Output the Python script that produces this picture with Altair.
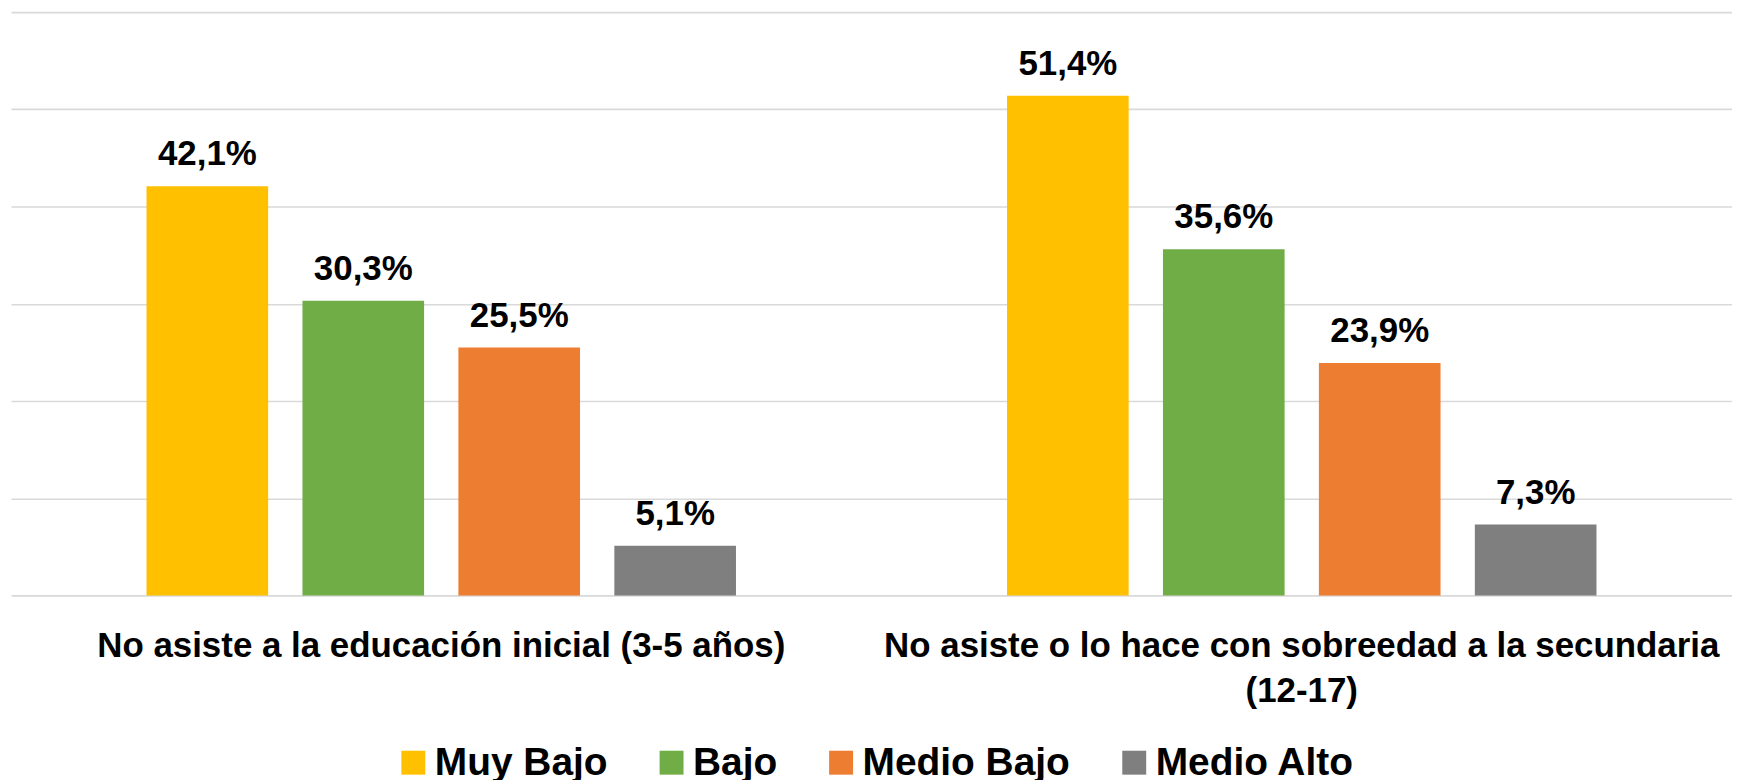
import altair as alt
import pandas as pd

categories = [
    "No asiste a la educación inicial (3-5 años)",
    "No asiste o lo hace con sobreedad a la secundaria (12-17)",
]
cat2_lines = ["No asiste o lo hace con sobreedad a la secundaria", "(12-17)"]
levels = ["Muy Bajo", "Bajo", "Medio Bajo", "Medio Alto"]
colors = ["#FFC000", "#70AD47", "#ED7D31", "#7F7F7F"]
values_inicial = [42.1, 30.3, 25.5, 5.1]
values_secundaria = [51.4, 35.6, 23.9, 7.3]

rows = []
for lvl, v in zip(levels, values_inicial):
    rows.append({"cat": categories[0], "nivel": lvl, "v": v})
for lvl, v in zip(levels, values_secundaria):
    rows.append({"cat": categories[1], "nivel": lvl, "v": v})
df = pd.DataFrame(rows)

FONT = "Liberation Sans"

label_expr = (
    f"datum.value == '{categories[1]}' ? ['{cat2_lines[0]}', '{cat2_lines[1]}'] : datum.value"
)

x = alt.X(
    "cat:N",
    sort=categories,
    title=None,
    scale=alt.Scale(paddingInner=0.315, paddingOuter=0.1575),
    axis=alt.Axis(
        labelAngle=0,
        labelFont=FONT,
        labelFontSize=35,
        labelFontWeight="bold",
        labelColor="#000000",
        labelPadding=33,
        labelLineHeight=45,
        labelLimit=2000,
        labelExpr=label_expr,
        ticks=False,
        tickSize=0,
        domain=False,
        grid=False,
    ),
)
xo = alt.XOffset(
    "nivel:N",
    sort=levels,
    scale=alt.Scale(paddingInner=0.22, paddingOuter=0),
)
y = alt.Y(
    "v:Q",
    title=None,
    scale=alt.Scale(domain=[0, 60], nice=False),
    axis=alt.Axis(
        values=[0, 10, 20, 30, 40, 50, 60],
        labels=False,
        ticks=False,
        domain=False,
        grid=True,
        gridColor="#D9D9D9",
        gridWidth=1.6,
    ),
)
color = alt.Color(
    "nivel:N",
    sort=levels,
    scale=alt.Scale(domain=levels, range=colors),
    legend=alt.Legend(
        title=None,
        orient="none",
        legendX=384,
        legendY=733,
        direction="horizontal",
        symbolType="square",
        symbolSize=576,
        symbolStrokeWidth=0,
        labelFont=FONT,
        labelFontSize=39,
        labelFontWeight="bold",
        labelColor="#000000",
        labelOffset=2,
        labelLimit=1000,
        columnPadding=44,
        padding=0,
    ),
)

bars = alt.Chart(df).mark_bar().encode(x=x, xOffset=xo, y=y, color=color)

text = (
    alt.Chart(df)
    .transform_calculate(lab="replace(format(datum.v, '.1f'), '.', ',') + '%'")
    .mark_text(
        font=FONT,
        fontSize=35,
        fontWeight="bold",
        color="#000000",
        baseline="alphabetic",
        dy=-21,
    )
    .encode(
        x=alt.X("cat:N", sort=categories),
        xOffset=alt.XOffset("nivel:N", sort=levels),
        y=alt.Y("v:Q"),
        text="lab:N",
    )
)

chart = (
    alt.layer(bars, text)
    .properties(
        width=1726,
        height=585,
        padding={"left": 3, "top": 3, "right": 0, "bottom": 0},
    )
    .configure_view(stroke=None)
)

chart.save("out.html", embed_options={"renderer": "svg", "actions": False})
